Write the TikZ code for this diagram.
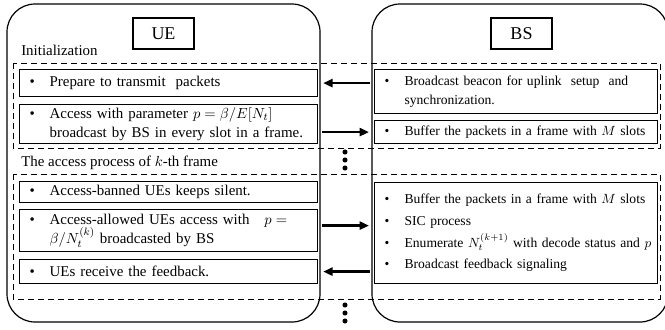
\documentclass[tikz,border=0pt]{standalone}
\usepackage{fontspec}
\setmainfont{Liberation Serif}
\usepackage{tikz}
\usetikzlibrary{
  arrows.meta
}
\tikzset{
  side box/.style={draw,line width=0.9pt,rounded corners=21pt},
  name box/.style={draw,line width=0.8pt,minimum width=45.75pt,minimum height=23.25pt,
    font=\fontsize{13.5}{16}\selectfont},
  phase frame/.style={draw,dash pattern=on 4.5pt off 3pt,line width=0.7pt},
  item box/.style={draw,line width=0.9pt,anchor=north west,align=left,
    inner xsep=7.5pt,inner ysep=0pt},
  ue box/.style={item box,text width=208.5pt},
  bs box/.style={item box,text width=197.25pt,font=\fontsize{10.2}{14.25}\selectfont},
  msg/.style={-{Triangle[length=7pt,width=6pt]},line width=1.8pt,
    shorten <=3pt,shorten >=3.75pt},
}
\newcommand{\bitem}[1]{\mbox{\makebox[15pt][l]{\textbullet}#1}}
\newcommand{\bindent}[1]{\mbox{\hspace*{15pt}#1}}

\begin{document}
\begin{tikzpicture}[
  x=0.75pt,y=-0.75pt,
  font=\fontsize{11.2}{14.25}\selectfont,
]
\useasboundingbox (0,0) rectangle (665,329);
\clip (0,0) rectangle (665,329);

\draw[side box] (7,4) rectangle (320,322);
\draw[side box] (372,4) rectangle (668,322);
\node[name box] (ue) at (163.5,33.5) {UE};
\node[name box] (bs) at (521.5,33.5) {BS};

% initialization
\draw[phase frame] (13,63) rectangle (660,148);
\node[anchor=base west,inner sep=0pt] (init) at (21,55) {Initialization};
\node[ue box,minimum height=20.25pt] (ue-a) at (19,69) {\bitem{Prepare to transmit\ \ packets}};
\node[ue box,minimum height=29.25pt] (ue-b) at (19,104)
  {\bitem{Access with parameter $p=\beta/E[N_t]$}\\ \bindent{broadcast by BS in every slot in a frame.}};
\node[bs box,minimum height=33pt] (bs-a) at (374,69)
  {\bitem{Broadcast beacon for uplink\ \ setup\ \ and}\\ \bindent{synchronization.}};
\node[bs box,minimum height=17.25pt] (bs-b) at (374,120)
  {\bitem{Buffer the packets in a frame with $M$ slots}};
\draw[msg] (bs-a.west |- ue-a.east) -- (ue-a.east);
\draw[msg] (ue-b.east |- bs-b.west) -- (bs-b.west);
\foreach \y in {152,160,168}
  \fill (345,\y) circle (1.9pt);

% k-th frame
\draw[phase frame] (13,174) rectangle (660,299);
\node[anchor=base west,inner sep=0pt] (frame) at (21,166) {The access process of $k$-th frame};
\node[ue box,minimum height=15.75pt] (ue-c) at (19,181) {\bitem{Access-banned UEs keeps silent.}};
\node[ue box,minimum height=31.5pt] (ue-d) at (19,209)
  {\bitem{Access-allowed UEs access with\quad $p=$}\\ \bindent{$\beta/N_t^{(k)}$ broadcasted by BS}};
\node[ue box,minimum height=18pt] (ue-e) at (19,259) {\bitem{UEs receive the feedback.}};
\node[bs box,minimum height=75.75pt] (bs-c) at (374,182)
  {\bitem{Buffer the packets in a frame with $M$ slots}\\[2pt]
   \bitem{SIC process}\\[2pt]
   \bitem{Enumerate $N_t^{(k+1)}$ with decode status and $p$}\\[2pt]
   \bitem{Broadcast feedback signaling}};
\draw[msg] ([yshift=3.75pt]ue-d.east) -- ([yshift=3.75pt]ue-d.east -| bs-c.west);
\draw[msg] (bs-c.west |- ue-e.east) -- (ue-e.east);
\foreach \y in {305,313,321}
  \fill (345,\y) circle (1.9pt);
\end{tikzpicture}
\end{document}
